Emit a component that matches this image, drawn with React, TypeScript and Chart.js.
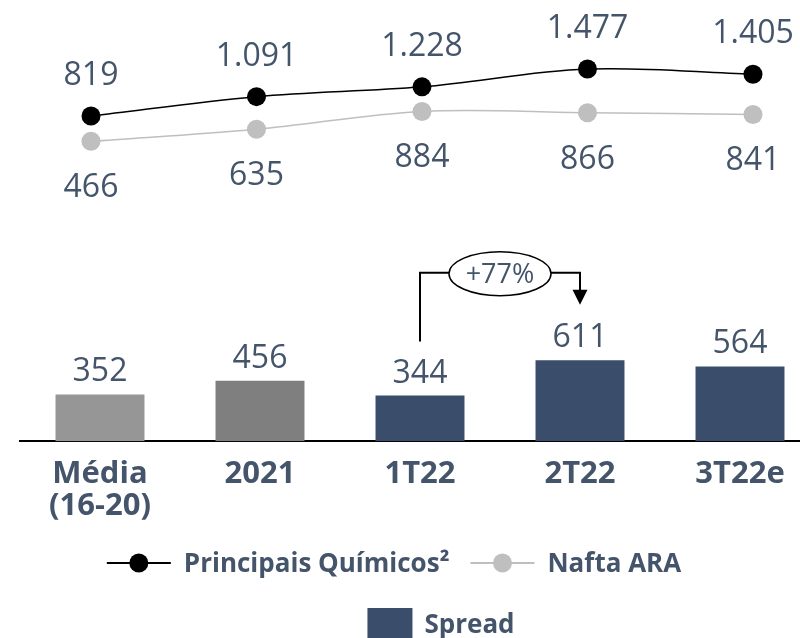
import { useEffect, useRef } from 'react';
import { Chart, registerables } from 'chart.js';

Chart.register(...registerables);

// ---- data ----
const categories: (string | string[])[] = [['Média', '(16-20)'], '2021', '1T22', '2T22', '3T22e'];
const spreadValues = [352, 456, 344, 611, 564];
const principaisQuimicos = [819, 1091, 1228, 1477, 1405];
const naftaARA = [466, 635, 884, 866, 841];
const spreadColors = ['#969696', '#7F7F7F', '#3A4D6B', '#3A4D6B', '#3A4D6B'];
const seriesNames = ['Principais Químicos²', 'Nafta ARA', 'Spread'];
const growthLabel = '+77%';
const growthFromIndex = 2;
const growthToIndex = 3;

const TEXT_COLOR = '#44546A';
const FONT = '"Open Sans", "Noto Sans", sans-serif';

const fmt = (v: number) => String(v).replace(/\B(?=(\d{3})+(?!\d))/g, '.');

const invisibleAxis = {
  display: true,
  offset: false,
  grace: 0,
  grid: { display: false, drawTicks: false, offset: false },
  border: { display: false },
  ticks: { display: false },
};

const labelsPlugin = {
  id: 'valueLabels',
  afterDatasetsDraw(chart: any) {
    const ctx = chart.ctx as CanvasRenderingContext2D;
    ctx.save();
    ctx.fillStyle = TEXT_COLOR;
    ctx.textAlign = 'center';
    ctx.textBaseline = 'alphabetic';
    ctx.font = `32px ${FONT}`;
    const m0 = chart.getDatasetMeta(0);
    const m1 = chart.getDatasetMeta(1);
    const m2 = chart.getDatasetMeta(2);
    m0.data.forEach((el: any, i: number) => ctx.fillText(fmt(principaisQuimicos[i]), el.x, el.y - 31));
    m1.data.forEach((el: any, i: number) => ctx.fillText(fmt(naftaARA[i]), el.x, el.y + 56));
    m2.data.forEach((el: any, i: number) => ctx.fillText(fmt(spreadValues[i]), el.x, el.y - 13));

    // growth annotation
    const b3 = m2.data[growthFromIndex];
    const b4 = m2.data[growthToIndex];
    const level = b4.y - 87.5;
    const cx = (b3.x + b4.x) / 2;
    const cy = level + 1;
    const rx = 51;
    const ry = 22;
    const tip = b4.y - 55.5;
    ctx.strokeStyle = '#000';
    ctx.lineWidth = 2;
    ctx.beginPath();
    ctx.moveTo(b3.x, b3.y - 54);
    ctx.lineTo(b3.x, level);
    ctx.lineTo(cx - rx, level);
    ctx.moveTo(cx + rx, level);
    ctx.lineTo(b4.x, level);
    ctx.lineTo(b4.x, tip - 14);
    ctx.stroke();
    ctx.fillStyle = '#000';
    ctx.beginPath();
    ctx.moveTo(b4.x - 7.5, tip - 15);
    ctx.lineTo(b4.x + 7.5, tip - 15);
    ctx.lineTo(b4.x, tip);
    ctx.closePath();
    ctx.fill();
    ctx.beginPath();
    ctx.ellipse(cx, cy, rx, ry, 0, 0, Math.PI * 2);
    ctx.fillStyle = '#fff';
    ctx.fill();
    ctx.lineWidth = 1.5;
    ctx.stroke();
    ctx.fillStyle = TEXT_COLOR;
    ctx.font = `27px ${FONT}`;
    ctx.fillText(growthLabel, cx, cy + 9.5);
    ctx.restore();
  },
};

const legendPlugin = {
  id: 'customLegend',
  afterDraw(chart: any) {
    const ctx = chart.ctx as CanvasRenderingContext2D;
    const ds = chart.data.datasets;
    ctx.save();
    ctx.font = `bold 26px ${FONT}`;
    ctx.textBaseline = 'alphabetic';
    ctx.textAlign = 'left';
    const lineLen = 64;
    const gapText = 13;
    const gapItem = 21;
    const w0 = ctx.measureText(ds[0].label).width;
    const w1 = ctx.measureText(ds[1].label).width;
    const total = lineLen + gapText + w0 + gapItem + lineLen + gapText + w1;
    let x = 394 - total / 2;
    const y1 = 563;
    [0, 1].forEach((k) => {
      const d = ds[k];
      ctx.strokeStyle = d.borderColor;
      ctx.lineWidth = 2;
      ctx.beginPath();
      ctx.moveTo(x, y1);
      ctx.lineTo(x + lineLen, y1);
      ctx.stroke();
      ctx.fillStyle = d.pointBackgroundColor;
      ctx.beginPath();
      ctx.arc(x + lineLen / 2, y1, 9.5, 0, Math.PI * 2);
      ctx.fill();
      x += lineLen + gapText;
      ctx.fillStyle = TEXT_COLOR;
      ctx.fillText(d.label, x, y1 + 9);
      x += (k === 0 ? w0 : w1) + gapItem;
    });
    const boxW = 45;
    const w2 = ctx.measureText(ds[2].label).width;
    const total2 = boxW + 12 + w2;
    let x2 = 441 - total2 / 2;
    ctx.fillStyle = spreadColors[spreadColors.length - 1];
    ctx.fillRect(x2, 608, boxW, 32);
    x2 += boxW + 12;
    ctx.fillStyle = TEXT_COLOR;
    ctx.fillText(ds[2].label, x2, 633);
    ctx.restore();
  },
};

export default function App() {
  const ref = useRef<HTMLCanvasElement>(null);
  useEffect(() => {
    if (!ref.current) return;
    const chart = new Chart(ref.current, {
      type: 'bar',
      data: {
        labels: categories as any,
        datasets: [
          {
            type: 'line',
            label: seriesNames[0],
            data: principaisQuimicos.map((v, i) => ({ x: i, y: v })),
            xAxisID: 'x2',
            yAxisID: 'y2',
            borderColor: '#000000',
            backgroundColor: '#000000',
            pointBackgroundColor: '#000000',
            borderWidth: 1.5,
            pointRadius: 9.5,
            pointBorderWidth: 0,
            tension: 0.35,
            clip: false,
            order: 0,
          } as any,
          {
            type: 'line',
            label: seriesNames[1],
            data: naftaARA.map((v, i) => ({ x: i, y: v })),
            xAxisID: 'x2',
            yAxisID: 'y2',
            borderColor: '#BFBFBF',
            backgroundColor: '#BFBFBF',
            pointBackgroundColor: '#BFBFBF',
            borderWidth: 1.5,
            pointRadius: 9.5,
            pointBorderWidth: 0,
            tension: 0.35,
            clip: false,
            order: 1,
          } as any,
          {
            type: 'bar',
            label: seriesNames[2],
            data: spreadValues,
            xAxisID: 'x',
            yAxisID: 'y',
            backgroundColor: spreadColors,
            borderWidth: 0,
            grouped: false,
            barPercentage: 0.556,
            categoryPercentage: 1,
            order: 2,
          } as any,
        ],
      },
      options: {
        responsive: false,
        animation: false,
        devicePixelRatio: 1,
        layout: { autoPadding: false, padding: { left: 20, right: 0, top: 0, bottom: 99 } },
        plugins: {
          legend: { display: false },
          tooltip: { enabled: false },
        },
        scales: {
          x: {
            type: 'category',
            offset: true,
            grid: { display: false, drawTicks: false },
            border: { display: true, color: '#000000', width: 2 },
            ticks: {
              color: TEXT_COLOR,
              font: { family: FONT, size: 31, weight: 'bold', lineHeight: 1.03 },
              padding: 17,
              maxRotation: 0,
              autoSkip: false,
            },
          },
          x2: { type: 'linear', position: 'bottom', min: -0.429, max: 4.405, ...invisibleAxis },
          y: { type: 'linear', position: 'left', min: 0, max: 3328, ...invisibleAxis },
          y2: { type: 'linear', position: 'left', min: -3732, max: 2444, ...invisibleAxis },
        },
      } as any,
      plugins: [labelsPlugin, legendPlugin],
    });
    return () => chart.destroy();
  }, []);
  return (
    <div style={{ position: 'absolute', left: 0, top: 0, width: 800, height: 638, overflow: 'hidden', background: '#fff' }}>
      <canvas ref={ref} width={820} height={638} style={{ width: 820, height: 638, display: 'block' }} />
    </div>
  );
}
